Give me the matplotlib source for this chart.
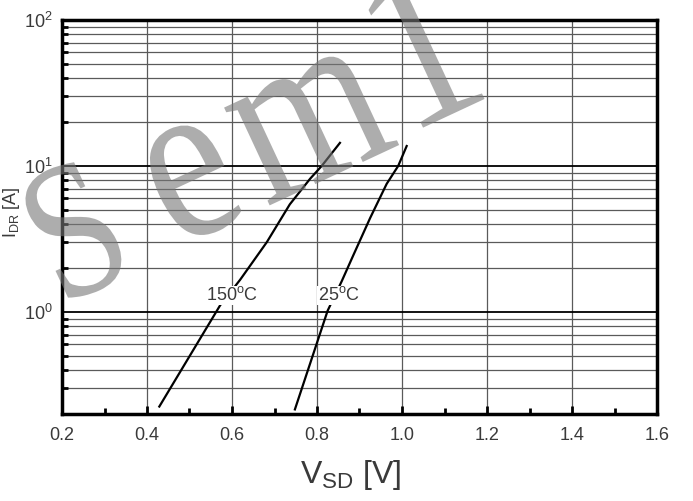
import numpy as np
import matplotlib
matplotlib.use('Agg')
import matplotlib.pyplot as plt
from matplotlib.ticker import LogLocator, NullFormatter, MultipleLocator
from matplotlib.textpath import TextPath
from matplotlib.font_manager import FontProperties
from matplotlib.patches import PathPatch
from matplotlib.transforms import Affine2D, IdentityTransform

plt.rcParams['font.family'] = ['Liberation Sans', 'DejaVu Sans']
plt.rcParams['mathtext.default'] = 'regular'

# curve points (V_SD in V, I_DR in A)
v_150 = [0.429, 0.572, 0.619, 0.682, 0.736, 0.784, 0.811, 0.854]
i_150 = [0.225, 1.11, 1.66, 3.01, 5.46, 8.19, 10.0, 14.4]
v_25 = [0.748, 0.825, 0.858, 0.885, 0.925, 0.964, 0.991, 1.011]
i_25 = [0.215, 1.02, 1.62, 2.43, 4.4, 7.55, 10.0, 13.7]

curve_labels = ['150$^{o}$C', '25$^{o}$C']
label_pos = [(0.60, 1.30), (0.852, 1.30)]

x_ticks = [0.2, 0.4, 0.6, 0.8, 1.0, 1.2, 1.4, 1.6]

# watermark letters, their centres (image pixels) and sizes
wm_letters = ['S', 'e', 'm', '1']
wm_centres = [(74, 230), (192, 181), (311, 125), (421, 43)]
wm_sizes = [195, 235, 235, 235]

W, H = 693, 501
fig = plt.figure(figsize=(W/100, H/100), dpi=100)
ax = fig.add_axes([62/W, 1-414/H, 595/W, 394/H])

ax.set_yscale('log')
ax.set_xlim(0.2, 1.6)
ax.set_ylim(0.2, 100)

ax.yaxis.set_major_locator(LogLocator(base=10))
ax.yaxis.set_minor_locator(LogLocator(base=10, subs=np.arange(2, 10)))
ax.yaxis.set_minor_formatter(NullFormatter())
ax.set_xticks(x_ticks)
ax.set_xticklabels(['%.1f' % t for t in x_ticks])
ax.xaxis.set_minor_locator(MultipleLocator(0.1))

ax.grid(which='major', axis='y', color='black', lw=1.3)
ax.grid(which='minor', axis='y', color='#5a5a5a', lw=0.9)
ax.grid(which='major', axis='x', color='#5a5a5a', lw=0.9)

ax.tick_params(which='both', direction='in', colors='black', labelcolor='#3a3a3a', labelsize=13)
ax.tick_params(axis='x', which='major', length=6, width=2, pad=9)
ax.tick_params(axis='x', which='minor', length=4, width=2)
ax.tick_params(axis='y', which='major', length=0, pad=7)
ax.tick_params(axis='y', which='minor', length=4, width=2)

for s in ax.spines.values():
    s.set_linewidth(2.5)

ax.plot(v_150, i_150, color='black', lw=1.6)
ax.plot(v_25, i_25, color='black', lw=1.6)

for lab, (lx, ly) in zip(curve_labels, label_pos):
    ax.text(lx, ly, lab, fontsize=13, color='#3a3a3a', ha='center', va='center',
            bbox=dict(facecolor='white', edgecolor='none', pad=0.5))

ax.set_xlabel('V$_{SD}$ [V]', fontsize=23, color='#3a3a3a')
ax.xaxis.set_label_coords(0.485, -0.112)
ax.set_ylabel('I$_{DR}$ [A]', fontsize=13, color='#3a3a3a')
ax.yaxis.set_label_coords(-0.067, 0.513)

# watermark, narrow serif letters turned 25 degrees
fp = FontProperties(family='Liberation Serif')
for ch, (cx, cy), sz in zip(wm_letters, wm_centres, wm_sizes):
    tp = TextPath((0, 0), ch, size=sz, prop=fp)
    ext = tp.get_extents()
    mx, my = (ext.x0 + ext.x1) / 2, (ext.y0 + ext.y1) / 2
    tr = (Affine2D().translate(-mx, -my).scale(0.82, 1.0)
          .rotate_deg(25).translate(cx, H - cy))
    patch = PathPatch(tr.transform_path(tp), facecolor='#777777', edgecolor='none',
                      alpha=0.6, transform=IdentityTransform(), zorder=5)
    fig.add_artist(patch)

fig.savefig('out.png', dpi=100)
